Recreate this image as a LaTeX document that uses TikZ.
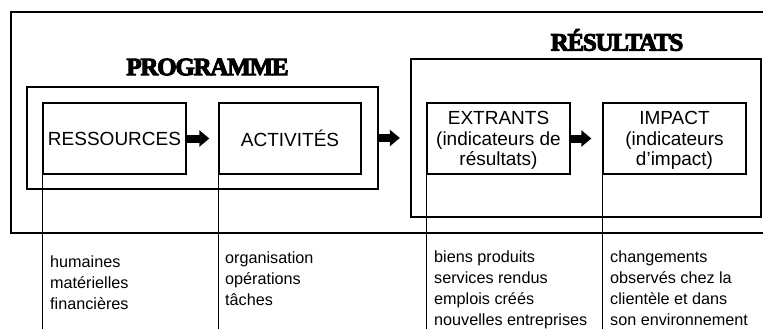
\documentclass[tikz,border=0pt]{standalone}
\usepackage{fontspec}
\setmainfont{Liberation Sans}
\newfontfamily\titlefont[FakeBold=4,LetterSpace=-5]{Liberation Serif Bold}
\usetikzlibrary{arrows.meta}
\tikzset{
  box/.style={draw, line width=1.3pt, inner sep=0pt, align=center,
    font=\fontsize{19}{20.5}\selectfont},
  lowtext/.style={text depth=-2pt},
  frame/.style={draw, line width=1.3pt, inner sep=0pt},
  blockarrow/.style={line width=8pt, -{Triangle[length=10pt,width=16pt]}},
  title/.style={font=\titlefont\fontsize{25}{25}\selectfont, inner sep=0pt},
  desc/.style={anchor=north west, align=left, inner sep=0pt,
    font=\fontsize{16.2}{21}\selectfont},
  drop/.style={line width=1.1pt}
}
\begin{document}
\begin{tikzpicture}[x=1pt,y=-1pt]
\useasboundingbox (0,0) rectangle (763,329);
% outer frame (open on the right)
\draw[line width=2.2pt] (763,12) -- (11,12) -- (11,233) -- (763,233);
% titles
\node[title] (tprog) at (207.5,67) {PROGRAMME};
\node[title] (tres) at (617,40) {RÉSULTATS};
% group boxes
\node[frame, minimum width=351pt, minimum height=102pt] (prog) at (202.5,138) {};
\node[frame, minimum width=350pt, minimum height=158pt] (resu) at (586,138) {};
% inner boxes
\node[box, minimum width=143pt, minimum height=71pt] (res) at (114.5,138.5) {RESSOURCES};
\node[box, minimum width=142pt, minimum height=71pt] (act) at (290,138.5) {ACTIVITÉS};
\node[box, lowtext, minimum width=143pt, minimum height=71pt] (ext) at (498.5,138.5) {EXTRANTS\\(indicateurs de\\résultats)};
\node[box, lowtext, minimum width=143pt, minimum height=71pt] (imp) at (674.5,138.5) {IMPACT\\(indicateurs\\d’impact)};
% block arrows
\draw[blockarrow, shorten >=9pt] (res.east) -- (act.west);
\draw[blockarrow, shorten >=10.5pt] (prog.east) -- (resu.west);
\draw[blockarrow, shorten >=11pt] (ext.east) -- (imp.west);
% drop lines
\coordinate (bot) at (0,329);
\draw[drop] ([yshift=-13.5pt]res.west) -- (res.west |- bot);
\draw[drop] ([yshift=-11pt]act.west) -- (act.west |- bot);
\draw[drop] ([yshift=-11.5pt]ext.west) -- (ext.west |- bot);
\draw[drop] ([yshift=-11.5pt]imp.west) -- (imp.west |- bot);
% descriptions
\node[desc] (d1) at (50,255.2) {humaines\\matérielles\\financières};
\node[desc] (d2) at (225,251.5) {organisation\\opérations\\tâches};
\node[desc] (d3) at (434,250.8) {biens produits\\services rendus\\emplois créés\\nouvelles entreprises};
\node[desc] (d4) at (610,251) {changements\\observés chez la\\clientèle et dans\\son environnement};
\end{tikzpicture}
\end{document}
